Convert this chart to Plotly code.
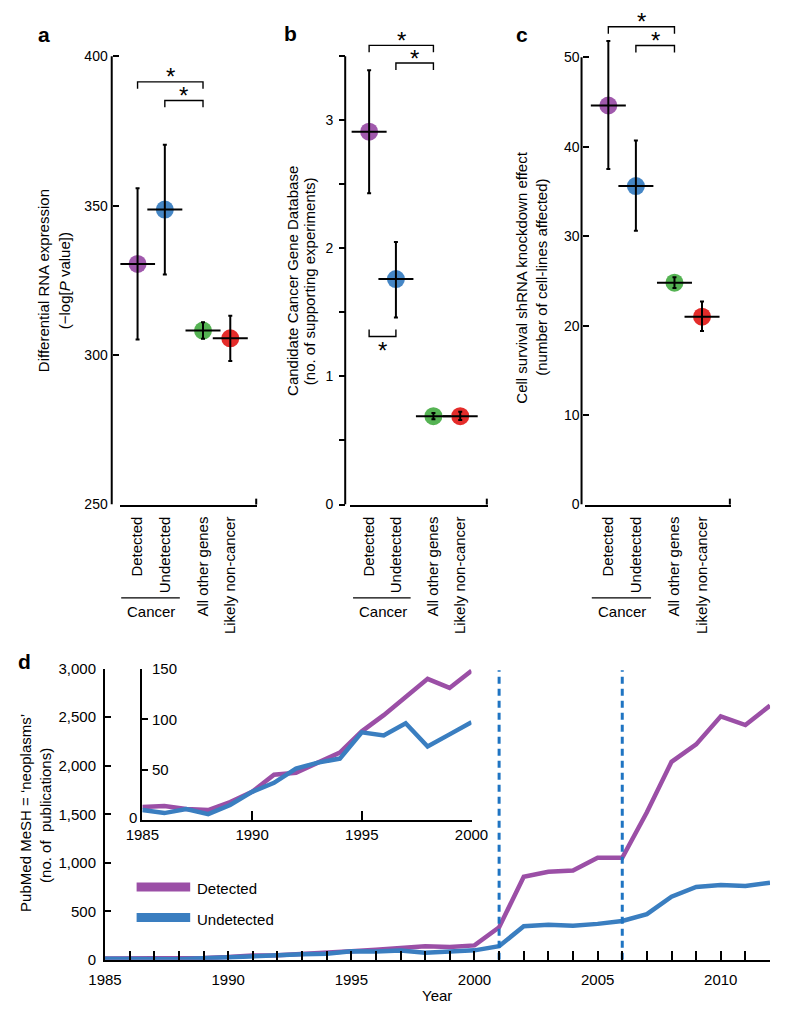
import plotly.graph_objects as go

W, H = 788, 1013
FONT = "Liberation Sans, Arial, sans-serif"


def fx(px):
    return px / W


def fy(py):
    return 1 - py / H


# ---------------- data ----------------
categories = ["Detected", "Undetected", "All other genes", "Likely non-cancer"]
group_label = "Cancer"

rna_mean = [330.5, 348.7, 308.2, 305.6]
rna_lo = [305.2, 327.0, 305.5, 298.0]
rna_hi = [355.8, 370.4, 311.0, 313.2]

ccgd_mean = [2.91, 1.76, 0.69, 0.69]
ccgd_lo = [2.43, 1.46, 0.665, 0.66]
ccgd_hi = [3.39, 2.05, 0.715, 0.725]

shrna_mean = [44.6, 35.6, 24.8, 21.0]
shrna_lo = [37.5, 30.6, 24.2, 19.4]
shrna_hi = [51.8, 40.7, 25.4, 22.7]

# significance brackets: (from category, to category, bracket level, direction)
rna_brackets = [(0, 2, 391.4, "down"), (1, 2, 385.2, "down")]
ccgd_brackets = [(0, 2, 3.584, "down"), (1, 2, 3.446, "down"), (0, 1, 1.312, "up")]
shrna_brackets = [(0, 2, 53.4, "down"), (1, 2, 51.3, "down")]

years = list(range(1985, 2013))
detected_pubs = [13, 14, 11, 10, 18, 28, 45, 47, 57, 67, 88, 104, 122, 140, 131, 148,
                 335, 855, 908, 920, 1052, 1052, 1520, 2040, 2220, 2510, 2420, 2620]
undetected_pubs = [10, 7, 11, 6, 15, 28, 37, 51, 57, 61, 87, 84, 96, 73, 85, 97,
                   140, 345, 360, 350, 370, 400, 470, 650, 750, 770, 760, 795]
inset_last_year = 2000
inset_yticks = [0, 50, 100, 150]
guide_years = [2001, 2006]
series_names = ["Detected", "Undetected"]

# ---------------- styles ----------------
dot_colors = ["#9b50a8", "#3b80c2", "#4caf4a", "#e3211f"]
line_purple = "#9b4fa6"
line_blue = "#3a7ec0"
guide_color = "#1f74c2"

fig = go.Figure()
shapes = []
annotations = []


def note(**kw):
    kw.setdefault("showarrow", False)
    kw.setdefault("xanchor", "center")
    kw.setdefault("yanchor", "middle")
    kw.setdefault("font", dict(family=FONT, size=15, color="black"))
    annotations.append(kw)


# x positions of the categories (gap between cancer group and the rest)
xpos = [i + 1 + (0.4 if i >= 2 else 0) for i in range(len(categories))]


def add_panel(n, mean, lo, hi, brackets, xdom_px, x1_px, ppx, yaxis_px, ybase,
              ytop_axis, ppu, tickvals, ticktext, ticks, standoff, title_lines,
              letter, letter_px):
    xa = "x" if n == 1 else f"x{n}"
    ya = "y" if n == 1 else f"y{n}"
    xkey = "xaxis" if n == 1 else f"xaxis{n}"
    ykey = "yaxis" if n == 1 else f"yaxis{n}"
    ybot_px = 504
    ytop_px = 5
    xr = [1 + (xdom_px[0] - x1_px) / ppx, 1 + (xdom_px[1] - x1_px) / ppx]
    yr = [ybase, ybase + (ybot_px - ytop_px) / ppu]
    fig.update_layout(**{
        xkey: dict(domain=[fx(xdom_px[0]), fx(xdom_px[1])], range=xr, anchor=ya,
                   showline=True, linecolor="black", linewidth=2, showgrid=False,
                   zeroline=False, tickvals=xpos, ticktext=categories,
                   tickangle=-90, ticks="", ticklen=0, ticklabelstandoff=4,
                   tickfont=dict(family=FONT, size=15, color="black")),
        ykey: dict(domain=[fy(ybot_px), fy(ytop_px)], range=yr, anchor="free",
                   position=fx(yaxis_px), showline=False, showgrid=False,
                   zeroline=False, tickvals=tickvals, ticktext=ticktext,
                   ticks=ticks, ticklen=6, tickwidth=2, tickcolor="black",
                   ticklabelstandoff=standoff,
                   tickfont=dict(family=FONT, size=14, color="black")),
    })
    # y axis line
    shapes.append(dict(type="line", xref="paper", yref=ya, x0=fx(yaxis_px),
                       x1=fx(yaxis_px), y0=ybase, y1=ytop_axis,
                       line=dict(color="black", width=2)))
    # small upturned end of x axis
    shapes.append(dict(type="line", xref="paper", yref="paper",
                       x0=fx(xdom_px[1] - 1), x1=fx(xdom_px[1] - 1),
                       y0=fy(ybot_px), y1=fy(ybot_px - 6),
                       line=dict(color="black", width=2)))
    # markers
    fig.add_trace(go.Scatter(x=xpos, y=mean, mode="markers", xaxis=xa, yaxis=ya,
                             marker=dict(size=18, color=dot_colors, opacity=0.95,
                                         line=dict(width=0)),
                             hoverinfo="skip"))
    fig.add_trace(go.Scatter(
        x=xpos, y=mean, mode="markers", xaxis=xa, yaxis=ya,
        marker=dict(symbol="line-ew", size=25, line=dict(color="black", width=2)),
        error_y=dict(type="data", symmetric=False,
                     array=[h - m for h, m in zip(hi, mean)],
                     arrayminus=[m - l for m, l in zip(mean, lo)],
                     color="black", thickness=2, width=2),
        hoverinfo="skip"))
    # brackets
    tick_u = 7 / ppu
    for i, j, lvl, d in brackets:
        yend = lvl - tick_u if d == "down" else lvl + tick_u
        fig.add_trace(go.Scatter(x=[xpos[i], xpos[i], xpos[j], xpos[j]],
                                 y=[yend, lvl, lvl, yend], mode="lines",
                                 xaxis=xa, yaxis=ya,
                                 line=dict(color="black", width=1.4),
                                 hoverinfo="skip"))
        note(x=(xpos[i] + xpos[j]) / 2, y=lvl, xref=xa, yref=ya, text="*",
             yshift=(5 if d == "down" else -14),
             font=dict(family=FONT, size=24, color="black"))
    # cancer group underline and label
    shapes.append(dict(type="line", xref=xa, yref="paper", x0=xpos[0] - 0.6,
                       x1=xpos[1] + 0.55, y0=fy(599), y1=fy(599),
                       line=dict(color="black", width=1.2)))
    note(x=(xpos[0] + xpos[1]) / 2, y=fy(613), xref=xa, yref="paper",
         text=group_label)
    # axis title lines
    for txt, cx, cy in title_lines:
        note(x=fx(cx), y=fy(cy), xref="paper", yref="paper", text=txt,
             textangle=-90)
    note(x=fx(letter_px[0]), y=fy(letter_px[1]), xref="paper", yref="paper",
         text=f"<b>{letter}</b>", font=dict(family=FONT, size=21, color="black"))


add_panel(1, rna_mean, rna_lo, rna_hi, rna_brackets, (108, 251), 126, 28.5, 99,
          250, 400, 3.04, [250, 300, 350, 400], ["250", "300", "350", "400"],
          "inside", 4,
          [("Differential RNA expression", 28, 276),
           ("(\u2212log[<i>P</i> value])", 49, 276)],
          "a", (28, 26))

add_panel(2, ccgd_mean, ccgd_lo, ccgd_hi, ccgd_brackets, (348, 492), 368, 28.0, 343,
          0, 3.5, 130.3, [0, 0.5, 1, 1.5, 2, 2.5, 3, 3.5],
          ["0", "", "1", "", "2", "", "3", ""], "outside", 3,
          [("Candidate Cancer Gene Database", 288, 277),
           ("(no. of supporting experiments)", 306, 277)],
          "b", (286, 25))

add_panel(3, shrna_mean, shrna_lo, shrna_hi, shrna_brackets, (594, 746), 618, 28.8, 590,
          0, 50, 9.1, [0, 10, 20, 30, 40, 50], ["0", "10", "20", "30", "40", "50"],
          "inside", 2,
          [("Cell survival shRNA knockdown effect", 527, 273),
           ("(number of cell-lines affected)", 548, 273)],
          "c", (528, 26))

# ---------------- panel d ----------------
fig.update_layout(
    xaxis4=dict(domain=[fx(92), fx(787)], range=[years[0], years[-1]], anchor="y4",
                showline=True, linecolor="black", linewidth=2, showgrid=False,
                zeroline=False, tickvals=years,
                ticktext=[str(y) if y % 5 == 0 else "" for y in years],
                ticks="inside", ticklen=9, tickwidth=2, tickcolor="black",
                ticklabelstandoff=5,
                tickfont=dict(family=FONT, size=15, color="black")),
    yaxis4=dict(domain=[fy(967), fy(671)], range=[0, 3000], anchor="x4",
                showline=True, linecolor="black", linewidth=2, showgrid=False,
                zeroline=False, tickvals=[0, 500, 1000, 1500, 2000, 2500, 3000],
                ticktext=["0", "500", "1,000", "1,500", "2,000", "2,500", "3,000"],
                ticks="inside", ticklen=6, tickwidth=2, tickcolor="black",
                ticklabelstandoff=4,
                tickfont=dict(family=FONT, size=15, color="black")),
    xaxis5=dict(domain=[fx(131), fx(475)], range=[years[0], inset_last_year],
                anchor="y5", showline=True, linecolor="black", linewidth=2,
                showgrid=False, zeroline=False,
                tickvals=[1985, 1990, 1995, 2000],
                ticks="inside", ticklen=9, tickwidth=2, tickcolor="black",
                tickfont=dict(family=FONT, size=15, color="black")),
    yaxis5=dict(domain=[fy(825), fy(671)], range=[0, 150], anchor="x5",
                showline=True, linecolor="black", linewidth=2, showgrid=False,
                zeroline=False, tickvals=inset_yticks, ticks="inside",
                ticklen=6, tickwidth=2, tickcolor="black",
                showticklabels=False),
)

# inset y tick labels (drawn right of the inset axis, the zero left of it)
for v in inset_yticks:
    if v == 0:
        note(x=fx(127), y=v, xref="paper", yref="y5", text=str(v), xanchor="right",
             yshift=3)
    else:
        note(x=fx(139), y=v, xref="paper", yref="y5", text=str(v), xanchor="left")

n_inset = years.index(inset_last_year) + 1
for vals, col in [(detected_pubs, line_purple), (undetected_pubs, line_blue)]:
    fig.add_trace(go.Scatter(x=years, y=vals, mode="lines", xaxis="x4", yaxis="y4",
                             line=dict(color=col, width=4.5), hoverinfo="skip"))
    fig.add_trace(go.Scatter(x=years[:n_inset], y=vals[:n_inset], mode="lines",
                             xaxis="x5", yaxis="y5",
                             line=dict(color=col, width=4.5), hoverinfo="skip"))

for gy in guide_years:
    fig.add_trace(go.Scatter(x=[gy, gy], y=[0, 2985], mode="lines", xaxis="x4",
                             yaxis="y4",
                             line=dict(color=guide_color, width=3, dash="7px,5px"),
                             hoverinfo="skip"))

# legend drawn by hand
for name, col, ypx in [(series_names[0], line_purple, 893),
                       (series_names[1], line_blue, 924)]:
    shapes.append(dict(type="line", xref="paper", yref="paper", x0=fx(125),
                       x1=fx(181), y0=fy(ypx), y1=fy(ypx),
                       line=dict(color=col, width=9)))
    note(x=fx(186), y=fy(ypx + 2), xref="paper", yref="paper", text=name,
         xanchor="left")

# titles
note(x=fx(439), y=fy(1003), xref="paper", yref="paper", text="Year")
note(x=fx(9), y=fy(818), xref="paper", yref="paper",
     text="PubMed MeSH = \u2018neoplasms\u2019", textangle=-90)
note(x=fx(30), y=fy(820), xref="paper", yref="paper",
     text="(no. of  publications)", textangle=-90)
note(x=fx(8), y=fy(664), xref="paper", yref="paper", text="<b>d</b>",
     font=dict(family=FONT, size=21, color="black"))

fig.update_layout(width=W, height=H, margin=dict(l=0, r=0, t=0, b=0),
                  paper_bgcolor="white", plot_bgcolor="white", showlegend=False,
                  shapes=shapes, annotations=annotations,
                  font=dict(family=FONT, color="black"))

fig.write_html("out.html", config={"displayModeBar": False},
               post_script="document.body.style.margin='0';"
                           "document.body.style.overflow='hidden';")
